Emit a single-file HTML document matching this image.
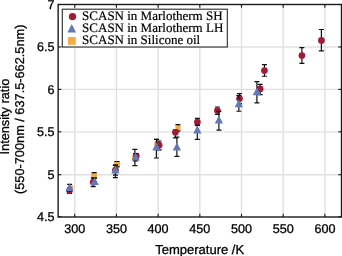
<!DOCTYPE html><html><head><meta charset="utf-8"><style>html,body{margin:0;padding:0;background:#fff;}svg{display:block;will-change:transform} text{text-rendering:geometricPrecision}</style></head><body>
<svg width="342" height="256" viewBox="0 0 342 256">
<rect x="0" y="0" width="342" height="256" fill="#fff"/>
<line x1="74.75" y1="4.5" x2="74.75" y2="217.0" stroke="#E0E0E0" stroke-width="1.4"/>
<line x1="116.44" y1="4.5" x2="116.44" y2="217.0" stroke="#E0E0E0" stroke-width="1.4"/>
<line x1="158.13" y1="4.5" x2="158.13" y2="217.0" stroke="#E0E0E0" stroke-width="1.4"/>
<line x1="199.82" y1="4.5" x2="199.82" y2="217.0" stroke="#E0E0E0" stroke-width="1.4"/>
<line x1="241.51" y1="4.5" x2="241.51" y2="217.0" stroke="#E0E0E0" stroke-width="1.4"/>
<line x1="283.20" y1="4.5" x2="283.20" y2="217.0" stroke="#E0E0E0" stroke-width="1.4"/>
<line x1="324.89" y1="4.5" x2="324.89" y2="217.0" stroke="#E0E0E0" stroke-width="1.4"/>
<line x1="58.15" y1="174.70" x2="341.5" y2="174.70" stroke="#E0E0E0" stroke-width="1.4"/>
<line x1="58.15" y1="131.85" x2="341.5" y2="131.85" stroke="#E0E0E0" stroke-width="1.4"/>
<line x1="58.15" y1="89.40" x2="341.5" y2="89.40" stroke="#E0E0E0" stroke-width="1.4"/>
<line x1="58.15" y1="46.95" x2="341.5" y2="46.95" stroke="#E0E0E0" stroke-width="1.4"/>
<path d="M94.15 172.55V178.45" stroke="#111" stroke-width="1.2" fill="none"/>
<path d="M117.00 161.50V166.90" stroke="#111" stroke-width="1.2" fill="none"/>
<path d="M134.90 149.40V165.55" stroke="#111" stroke-width="1.2" fill="none"/>
<path d="M156.60 139.35V147.85" stroke="#111" stroke-width="1.2" fill="none"/>
<path d="M177.95 124.70V131.10" stroke="#111" stroke-width="1.2" fill="none"/>
<rect x="69.00" y="185.30" width="4.2" height="4.2" fill="#F4A943"/>
<rect x="91.35" y="172.70" width="5.6" height="5.6" fill="#F4A943"/>
<rect x="114.00" y="161.20" width="6.0" height="6.0" fill="#F4A943"/>
<rect x="132.10" y="155.30" width="5.6" height="5.6" fill="#F4A943"/>
<rect x="154.40" y="141.40" width="4.4" height="4.4" fill="#F4A943"/>
<rect x="175.40" y="125.35" width="5.1" height="5.1" fill="#F4A943"/>
<path d="M91.65 172.55H96.65M91.65 178.45H96.65" stroke="#111" stroke-width="1.2" fill="none"/>
<path d="M114.50 161.50H119.50M114.50 166.90H119.50" stroke="#111" stroke-width="1.2" fill="none"/>
<path d="M132.40 149.40H137.40M132.40 165.55H137.40" stroke="#111" stroke-width="1.2" fill="none"/>
<path d="M154.10 139.35H159.10M154.10 147.85H159.10" stroke="#111" stroke-width="1.2" fill="none"/>
<path d="M175.45 124.70H180.45M175.45 131.10H180.45" stroke="#111" stroke-width="1.2" fill="none"/>
<path d="M69.50 187.80V193.40M67.00 187.80H72.00M67.00 193.40H72.00" stroke="#111" stroke-width="1.2" fill="none"/>
<path d="M93.25 177.80V186.60M90.75 177.80H95.75M90.75 186.60H95.75" stroke="#111" stroke-width="1.2" fill="none"/>
<path d="M115.45 164.75V175.20M112.95 164.75H117.95M112.95 175.20H117.95" stroke="#111" stroke-width="1.2" fill="none"/>
<path d="M136.30 153.65V158.45M133.80 153.65H138.80M133.80 158.45H138.80" stroke="#111" stroke-width="1.2" fill="none"/>
<path d="M159.15 141.00V149.80M156.65 141.00H161.65M156.65 149.80H161.65" stroke="#111" stroke-width="1.2" fill="none"/>
<path d="M175.40 129.80V137.80M172.90 129.80H177.90M172.90 137.80H177.90" stroke="#111" stroke-width="1.2" fill="none"/>
<path d="M197.40 118.35V125.40M194.90 118.35H199.90M194.90 125.40H199.90" stroke="#111" stroke-width="1.2" fill="none"/>
<path d="M217.40 107.00V114.30M214.90 107.00H219.90M214.90 114.30H219.90" stroke="#111" stroke-width="1.2" fill="none"/>
<path d="M239.50 93.50V103.70M237.00 93.50H242.00M237.00 103.70H242.00" stroke="#111" stroke-width="1.2" fill="none"/>
<path d="M260.15 84.40V94.70M257.65 84.40H262.65M257.65 94.70H262.65" stroke="#111" stroke-width="1.2" fill="none"/>
<path d="M264.45 64.70V76.25M261.95 64.70H266.95M261.95 76.25H266.95" stroke="#111" stroke-width="1.2" fill="none"/>
<path d="M301.90 47.70V63.40M299.40 47.70H304.40M299.40 63.40H304.40" stroke="#111" stroke-width="1.2" fill="none"/>
<path d="M321.40 29.50V50.90M318.90 29.50H323.90M318.90 50.90H323.90" stroke="#111" stroke-width="1.2" fill="none"/>
<circle cx="69.50" cy="190.60" r="3.35" fill="#A11A36"/>
<circle cx="93.25" cy="182.20" r="3.35" fill="#A11A36"/>
<circle cx="115.45" cy="170.00" r="3.35" fill="#A11A36"/>
<circle cx="136.30" cy="156.05" r="3.35" fill="#A11A36"/>
<circle cx="159.15" cy="145.15" r="3.35" fill="#A11A36"/>
<circle cx="175.40" cy="132.30" r="3.35" fill="#A11A36"/>
<circle cx="197.40" cy="122.00" r="3.35" fill="#A11A36"/>
<circle cx="217.40" cy="110.50" r="3.35" fill="#A11A36"/>
<circle cx="239.50" cy="98.60" r="3.35" fill="#A11A36"/>
<circle cx="260.15" cy="88.90" r="3.35" fill="#A11A36"/>
<circle cx="264.45" cy="70.55" r="3.35" fill="#A11A36"/>
<circle cx="301.90" cy="55.50" r="3.35" fill="#A11A36"/>
<circle cx="321.40" cy="40.40" r="3.35" fill="#A11A36"/>
<path d="M69.55 184.40V191.40M67.05 184.40H72.05M67.05 191.40H72.05" stroke="#111" stroke-width="1.2" fill="none"/>
<path d="M94.60 178.10V184.10M92.10 178.10H97.10M92.10 184.10H97.10" stroke="#111" stroke-width="1.2" fill="none"/>
<path d="M115.35 165.50V177.55M112.85 165.50H117.85M112.85 177.55H117.85" stroke="#111" stroke-width="1.2" fill="none"/>
<path d="M135.65 153.65V160.95M133.15 153.65H138.15M133.15 160.95H138.15" stroke="#111" stroke-width="1.2" fill="none"/>
<path d="M156.40 139.35V158.00M153.90 139.35H158.90M153.90 158.00H158.90" stroke="#111" stroke-width="1.2" fill="none"/>
<path d="M176.90 137.20V156.40M174.40 137.20H179.40M174.40 156.40H179.40" stroke="#111" stroke-width="1.2" fill="none"/>
<path d="M197.30 125.20V139.40M194.80 125.20H199.80M194.80 139.40H199.80" stroke="#111" stroke-width="1.2" fill="none"/>
<path d="M218.90 111.40V130.20M216.40 111.40H221.40M216.40 130.20H221.40" stroke="#111" stroke-width="1.2" fill="none"/>
<path d="M238.85 95.40V111.25M236.35 95.40H241.35M236.35 111.25H241.35" stroke="#111" stroke-width="1.2" fill="none"/>
<path d="M256.90 81.60V102.80M254.40 81.60H259.40M254.40 102.80H259.40" stroke="#111" stroke-width="1.2" fill="none"/>
<polygon points="69.55,183.30 73.70,191.30 65.40,191.30" fill="#6179B4"/>
<polygon points="94.60,177.10 98.75,185.10 90.45,185.10" fill="#6179B4"/>
<polygon points="115.35,165.55 119.50,173.55 111.20,173.55" fill="#6179B4"/>
<polygon points="135.65,152.60 139.80,160.60 131.50,160.60" fill="#6179B4"/>
<polygon points="156.40,142.60 160.55,150.60 152.25,150.60" fill="#6179B4"/>
<polygon points="176.90,142.60 181.05,150.60 172.75,150.60" fill="#6179B4"/>
<polygon points="197.30,125.60 201.45,133.60 193.15,133.60" fill="#6179B4"/>
<polygon points="218.90,115.40 223.05,123.40 214.75,123.40" fill="#6179B4"/>
<polygon points="238.85,99.30 243.00,107.30 234.70,107.30" fill="#6179B4"/>
<polygon points="256.90,87.30 261.05,95.30 252.75,95.30" fill="#6179B4"/>
<rect x="58.15" y="4.5" width="283.35" height="212.5" fill="none" stroke="#1a1a1a" stroke-width="1.4"/>
<line x1="74.75" y1="217.0" x2="74.75" y2="213.8" stroke="#1a1a1a" stroke-width="1.1"/>
<line x1="74.75" y1="4.5" x2="74.75" y2="7.7" stroke="#1a1a1a" stroke-width="1.1"/>
<line x1="116.44" y1="217.0" x2="116.44" y2="213.8" stroke="#1a1a1a" stroke-width="1.1"/>
<line x1="116.44" y1="4.5" x2="116.44" y2="7.7" stroke="#1a1a1a" stroke-width="1.1"/>
<line x1="158.13" y1="217.0" x2="158.13" y2="213.8" stroke="#1a1a1a" stroke-width="1.1"/>
<line x1="158.13" y1="4.5" x2="158.13" y2="7.7" stroke="#1a1a1a" stroke-width="1.1"/>
<line x1="199.82" y1="217.0" x2="199.82" y2="213.8" stroke="#1a1a1a" stroke-width="1.1"/>
<line x1="199.82" y1="4.5" x2="199.82" y2="7.7" stroke="#1a1a1a" stroke-width="1.1"/>
<line x1="241.51" y1="217.0" x2="241.51" y2="213.8" stroke="#1a1a1a" stroke-width="1.1"/>
<line x1="241.51" y1="4.5" x2="241.51" y2="7.7" stroke="#1a1a1a" stroke-width="1.1"/>
<line x1="283.20" y1="217.0" x2="283.20" y2="213.8" stroke="#1a1a1a" stroke-width="1.1"/>
<line x1="283.20" y1="4.5" x2="283.20" y2="7.7" stroke="#1a1a1a" stroke-width="1.1"/>
<line x1="324.89" y1="217.0" x2="324.89" y2="213.8" stroke="#1a1a1a" stroke-width="1.1"/>
<line x1="324.89" y1="4.5" x2="324.89" y2="7.7" stroke="#1a1a1a" stroke-width="1.1"/>
<line x1="58.15" y1="216.75" x2="61.35" y2="216.75" stroke="#1a1a1a" stroke-width="1.1"/>
<line x1="341.5" y1="216.75" x2="338.3" y2="216.75" stroke="#1a1a1a" stroke-width="1.1"/>
<line x1="58.15" y1="174.70" x2="61.35" y2="174.70" stroke="#1a1a1a" stroke-width="1.1"/>
<line x1="341.5" y1="174.70" x2="338.3" y2="174.70" stroke="#1a1a1a" stroke-width="1.1"/>
<line x1="58.15" y1="131.85" x2="61.35" y2="131.85" stroke="#1a1a1a" stroke-width="1.1"/>
<line x1="341.5" y1="131.85" x2="338.3" y2="131.85" stroke="#1a1a1a" stroke-width="1.1"/>
<line x1="58.15" y1="89.40" x2="61.35" y2="89.40" stroke="#1a1a1a" stroke-width="1.1"/>
<line x1="341.5" y1="89.40" x2="338.3" y2="89.40" stroke="#1a1a1a" stroke-width="1.1"/>
<line x1="58.15" y1="46.95" x2="61.35" y2="46.95" stroke="#1a1a1a" stroke-width="1.1"/>
<line x1="341.5" y1="46.95" x2="338.3" y2="46.95" stroke="#1a1a1a" stroke-width="1.1"/>
<line x1="58.15" y1="4.50" x2="61.35" y2="4.50" stroke="#1a1a1a" stroke-width="1.1"/>
<line x1="341.5" y1="4.50" x2="338.3" y2="4.50" stroke="#1a1a1a" stroke-width="1.1"/>
<text x="74.75" y="232.6" font-family="&quot;Liberation Sans&quot;, sans-serif" font-size="12.6" text-anchor="middle" fill="#000" stroke="#000" stroke-width="0.3">300</text>
<text x="116.44" y="232.6" font-family="&quot;Liberation Sans&quot;, sans-serif" font-size="12.6" text-anchor="middle" fill="#000" stroke="#000" stroke-width="0.3">350</text>
<text x="158.13" y="232.6" font-family="&quot;Liberation Sans&quot;, sans-serif" font-size="12.6" text-anchor="middle" fill="#000" stroke="#000" stroke-width="0.3">400</text>
<text x="199.82" y="232.6" font-family="&quot;Liberation Sans&quot;, sans-serif" font-size="12.6" text-anchor="middle" fill="#000" stroke="#000" stroke-width="0.3">450</text>
<text x="241.51" y="232.6" font-family="&quot;Liberation Sans&quot;, sans-serif" font-size="12.6" text-anchor="middle" fill="#000" stroke="#000" stroke-width="0.3">500</text>
<text x="283.20" y="232.6" font-family="&quot;Liberation Sans&quot;, sans-serif" font-size="12.6" text-anchor="middle" fill="#000" stroke="#000" stroke-width="0.3">550</text>
<text x="324.89" y="232.6" font-family="&quot;Liberation Sans&quot;, sans-serif" font-size="12.6" text-anchor="middle" fill="#000" stroke="#000" stroke-width="0.3">600</text>
<text x="54.6" y="221.25" font-family="&quot;Liberation Sans&quot;, sans-serif" font-size="12.6" text-anchor="end" fill="#000" stroke="#000" stroke-width="0.3">4.5</text>
<text x="54.6" y="179.20" font-family="&quot;Liberation Sans&quot;, sans-serif" font-size="12.6" text-anchor="end" fill="#000" stroke="#000" stroke-width="0.3">5</text>
<text x="54.6" y="136.35" font-family="&quot;Liberation Sans&quot;, sans-serif" font-size="12.6" text-anchor="end" fill="#000" stroke="#000" stroke-width="0.3">5.5</text>
<text x="54.6" y="93.90" font-family="&quot;Liberation Sans&quot;, sans-serif" font-size="12.6" text-anchor="end" fill="#000" stroke="#000" stroke-width="0.3">6</text>
<text x="54.6" y="51.45" font-family="&quot;Liberation Sans&quot;, sans-serif" font-size="12.6" text-anchor="end" fill="#000" stroke="#000" stroke-width="0.3">6.5</text>
<text x="54.6" y="9.00" font-family="&quot;Liberation Sans&quot;, sans-serif" font-size="12.6" text-anchor="end" fill="#000" stroke="#000" stroke-width="0.3">7</text>
<text x="199.7" y="253.6" font-family="&quot;Liberation Sans&quot;, sans-serif" font-size="13.0" text-anchor="middle" fill="#000" stroke="#000" stroke-width="0.3">Temperature /K</text>
<text transform="translate(8.6,116.6) rotate(-90)" font-family="&quot;Liberation Sans&quot;, sans-serif" font-size="12.75" text-anchor="middle" fill="#000" stroke="#000" stroke-width="0.3">Intensity ratio</text>
<text transform="translate(23.5,109.3) rotate(-90)" font-family="&quot;Liberation Sans&quot;, sans-serif" font-size="12.75" text-anchor="middle" fill="#000" stroke="#000" stroke-width="0.3">(550-700nm / 637.5-662.5nm)</text>
<rect x="62.3" y="9.2" width="165.0" height="37.8" fill="#fff" stroke="#2a2a2a" stroke-width="1.1"/>
<circle cx="72.50" cy="16.60" r="3.7" fill="#A11A36"/>
<polygon points="71.75,24.00 76.10,32.40 67.40,32.40" fill="#6179B4"/>
<rect x="68.05" y="37.05" width="7.7" height="7.7" fill="#F4A943"/>
<text x="82.1" y="20.20" font-family="&quot;Liberation Serif&quot;, serif" font-size="13" fill="#000" stroke="#000" stroke-width="0.2">SCASN in Marlotherm SH</text>
<text x="82.1" y="31.90" font-family="&quot;Liberation Serif&quot;, serif" font-size="13" fill="#000" stroke="#000" stroke-width="0.2">SCASN in Marlotherm LH</text>
<text x="82.1" y="43.60" font-family="&quot;Liberation Serif&quot;, serif" font-size="13" fill="#000" stroke="#000" stroke-width="0.2">SCASN in Silicone oil</text>
</svg></body></html>
